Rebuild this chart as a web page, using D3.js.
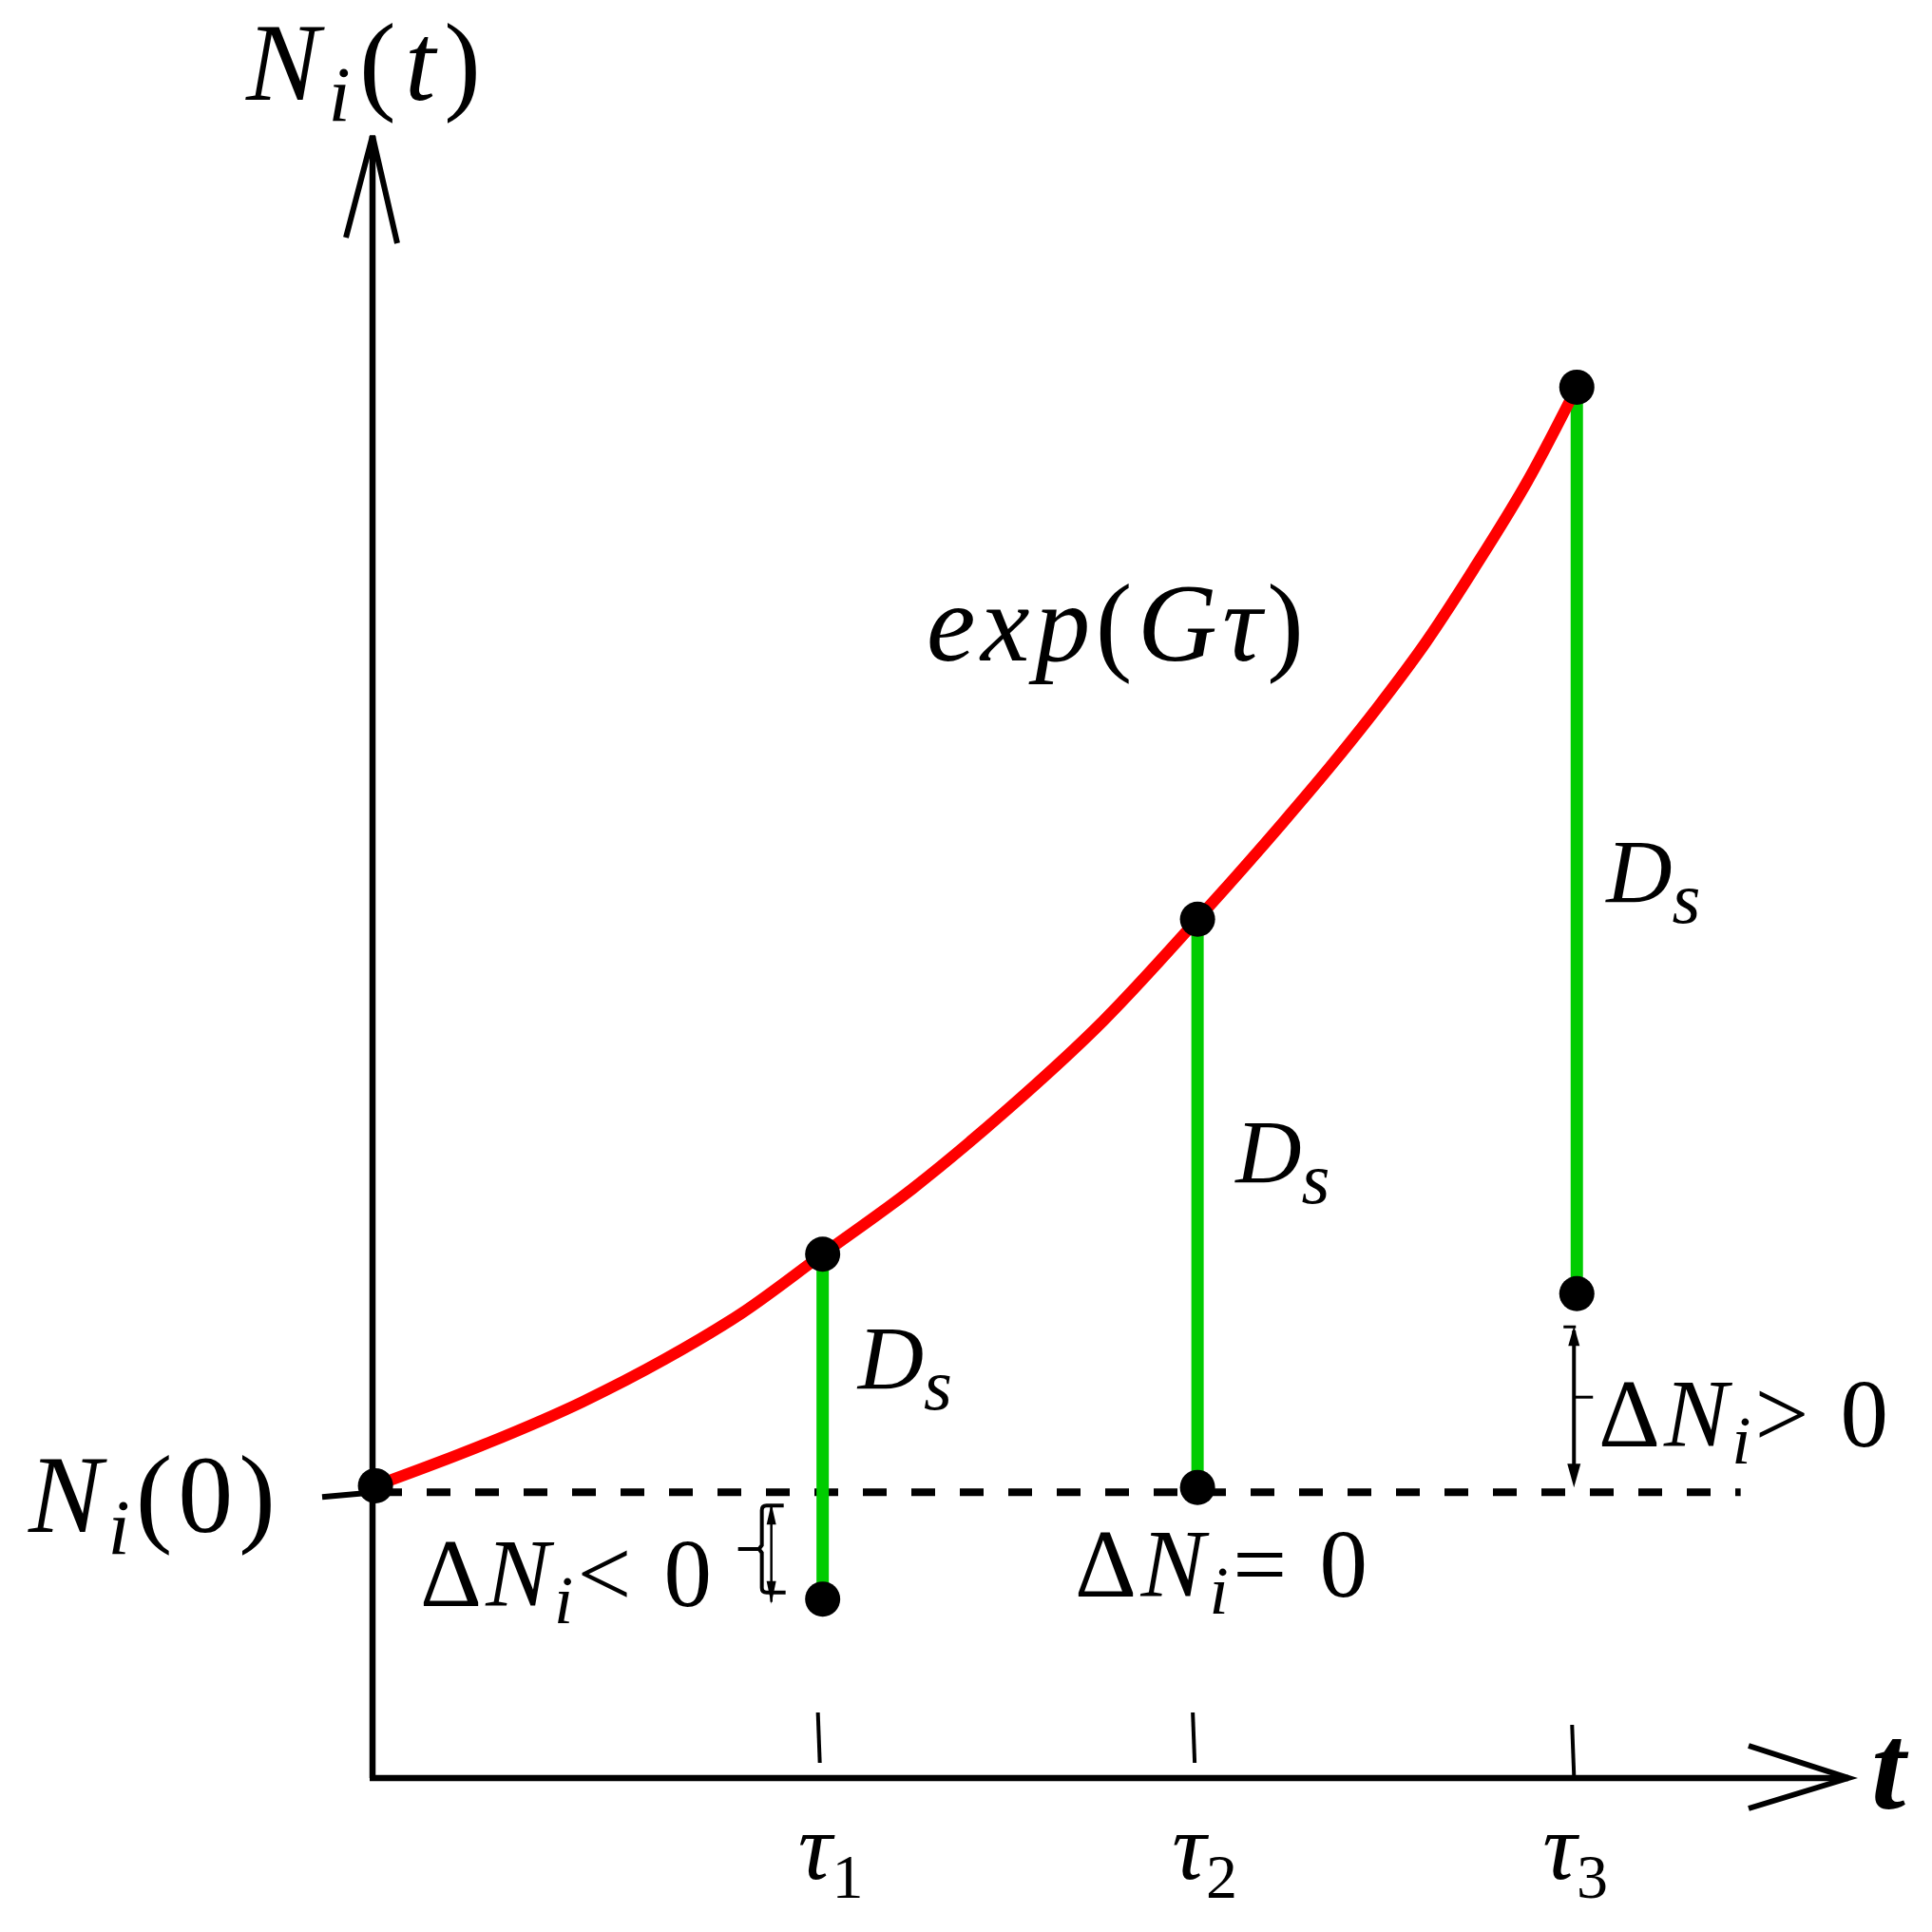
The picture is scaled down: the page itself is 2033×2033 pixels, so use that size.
<!DOCTYPE html>
<html>
<head>
<meta charset="utf-8">
<script src="https://cdn.jsdelivr.net/npm/d3@7"></script>
<style>
  html, body { margin: 0; padding: 0; background: #fff; }
  svg { display: block; }
</style>
</head>
<body>
<svg id="chart" width="2033" height="2033"></svg>
<script>
// ---------------- DATA ----------------
// time values of the three sampling instants (axis units 0..100)
const tauT = [30.5, 55.9, 81.6];
const tauSubs = ['1', '2', '3'];
// exponential growth curve N(t)
const curveT = [0.2, 4.1, 7.8, 14.2, 19.8, 25.0, 30.5, 36.6, 43.0, 49.5, 55.9, 61.7, 64.9, 68.1, 71.4, 74.6, 78.4, 81.6];
const curveN = [17.8, 19.1, 20.4, 22.9, 25.5, 28.3, 31.9, 35.9, 40.7, 46.1, 52.3, 58.2, 61.6, 65.2, 69.2, 73.6, 79.2, 84.7];
// value on the curve at each tau, and value after dilution D_s
const topN = [31.9, 52.3, 84.7];
const afterN = [10.9, 17.7, 29.5];
// initial value
const N0 = 17.8;
const baseN = 17.4;       // level of the dashed N_i(0) reference line
const baseEndT = 92.7;    // where the dashed line ends
const deltaSigns = ['<', '=', '>'];

// text labels (parts: [text, kind]) kind: it = italic, sub = italic subscript, subu = upright subscript, '' = upright
const yAxisLabel = [['N', 'it'], ['i', 'sub'], ['(', ''], ['t', 'it'], [')', '']];
const n0Label = [['N', 'it'], ['i', 'sub'], ['(', ''], ['0', ''], [')', '']];
const growthLabel = [['exp', 'it'], ['(', ''], ['G', 'it'], ['τ', 'it'], [')', '']];
const dsLabel = [['D', 'it'], ['s', 'sub']];
const xAxisLabel = 't';

// ---------------- LAYOUT ----------------
const W = 2033, H = 2033;
const FONT = "'Liberation Serif', 'DejaVu Serif', serif";
const svg = d3.select('#chart');
svg.append('rect').attr('width', W).attr('height', H).attr('fill', '#fff');

const x = d3.scaleLinear().domain([0, 100]).range([392, 1945]);
const y = d3.scaleLinear().domain([0, 100]).range([1871, 143]);

const GREEN = '#00cc00', RED = '#ff0000', BLACK = '#000';

function mathText(px, py, size, parts, width, subScale, subDrop) {
  const t = svg.append('text')
    .attr('x', px).attr('y', py)
    .attr('font-size', size)
    .attr('font-family', FONT)
    .attr('fill', BLACK);
  let shifted = 0;
  parts.forEach(([s, kind]) => {
    const ts = t.append('tspan').text(s);
    const isSub = kind === 'sub' || kind === 'subu';
    if (kind === 'it' || kind === 'sub') ts.attr('font-style', 'italic');
    const target = isSub ? subDrop : 0;
    const dy = target - shifted;
    if (dy) ts.attr('dy', dy);
    shifted = target;
    if (isSub) ts.attr('font-size', size * subScale);
  });
  if (width) t.attr('textLength', width).attr('lengthAdjust', 'spacing');
  return t;
}

// ---------------- AXES ----------------
const axes = svg.append('g').attr('stroke', BLACK).attr('fill', 'none')
  .attr('stroke-linecap', 'butt');
// y axis
axes.append('line')
  .attr('x1', x(0)).attr('y1', y(0)).attr('x2', x(0)).attr('y2', y(100))
  .attr('stroke-width', 6.5);
axes.append('path')
  .attr('d', `M${x(0) - 28},${y(100) + 107} L${x(0)},${y(100)} L${x(0) + 26},${y(100) + 113}`)
  .attr('stroke-width', 6).attr('stroke-linejoin', 'miter');
// x axis
axes.append('line')
  .attr('x1', x(0) - 3).attr('y1', y(0)).attr('x2', x(100)).attr('y2', y(0))
  .attr('stroke-width', 6.5);
axes.append('path')
  .attr('d', `M${x(100) - 105},${y(0) - 34} L${x(100)},${y(0)} L${x(100) - 105},${y(0) + 32}`)
  .attr('stroke-width', 6).attr('stroke-linejoin', 'miter');

// tick marks above the x axis at each tau (short, slightly off the axis)
const tickTop = [69, 69, 56], tickBot = [16, 16, 3];
axes.selectAll('line.tick').data(tauT).join('line')
  .attr('class', 'tick')
  .attr('x1', (d) => x(d) - 5).attr('y1', (d, i) => y(0) - tickTop[i])
  .attr('x2', (d) => x(d) - 3).attr('y2', (d, i) => y(0) - tickBot[i])
  .attr('stroke-width', 4);

// small tick left of the y axis at N_i(0)
axes.append('line')
  .attr('x1', x(0) - 53).attr('y1', y(baseN) + 5)
  .attr('x2', x(0) + 3).attr('y2', y(baseN))
  .attr('stroke-width', 6);

// dashed reference line
svg.append('line')
  .attr('x1', x(0) + 6).attr('y1', y(baseN))
  .attr('x2', x(baseEndT)).attr('y2', y(baseN))
  .attr('stroke', BLACK).attr('stroke-width', 8)
  .attr('stroke-dasharray', '25 26');

// ---------------- GREEN DILUTION SEGMENTS ----------------
svg.selectAll('line.ds').data(tauT).join('line')
  .attr('class', 'ds')
  .attr('x1', (d) => x(d)).attr('x2', (d) => x(d))
  .attr('y1', (d, i) => y(topN[i])).attr('y2', (d, i) => y(afterN[i]))
  .attr('stroke', GREEN).attr('stroke-width', 13);

// ---------------- RED CURVE ----------------
const curvePts = curveT.map((t, i) => [t, curveN[i]]);
svg.append('path')
  .datum(curvePts)
  .attr('d', d3.line().x((d) => x(d[0])).y((d) => y(d[1])).curve(d3.curveMonotoneX))
  .attr('fill', 'none').attr('stroke', RED).attr('stroke-width', 12)
  .attr('stroke-linecap', 'round');

// ---------------- DOTS ----------------
const dots = [[0.2, N0]]
  .concat(tauT.map((t, i) => [t, topN[i]]))
  .concat(tauT.map((t, i) => [t, afterN[i]]));
svg.selectAll('circle.pt').data(dots).join('circle')
  .attr('class', 'pt')
  .attr('cx', (d) => x(d[0])).attr('cy', (d) => y(d[1]))
  .attr('r', 18.5).attr('fill', BLACK);

// ---------------- ANNOTATIONS ----------------
// brace + double arrow for ΔN_i < 0 (at tau1)
{
  const cx = x(tauT[0]);
  const top = y(baseN) + 14, bot = y(afterN[0]) - 7;
  const mid = (top + bot) / 2;
  const bx = cx - 64;
  const g = svg.append('g').attr('stroke', BLACK).attr('fill', 'none').attr('stroke-width', 4);
  g.append('path').attr('d',
    `M${cx - 41},${top} L${bx + 5},${top} Q${bx},${top} ${bx},${top + 5} L${bx},${mid - 4} L${bx - 3},${mid} L${bx},${mid + 4} L${bx},${bot - 5} Q${bx},${bot} ${bx + 5},${bot} L${cx - 39},${bot}`);
  g.append('line').attr('x1', cx - 89).attr('y1', mid).attr('x2', bx - 3).attr('y2', mid);
  const ax = cx - 54;
  g.append('line').attr('x1', ax).attr('y1', top).attr('x2', ax).attr('y2', bot + 10).attr('stroke-width', 2.5);
  const ah = svg.append('g').attr('fill', BLACK);
  ah.append('path').attr('d', `M${ax},${top - 2} L${ax - 5},${top + 20} L${ax + 5},${top + 20} Z`);
  ah.append('path').attr('d', `M${ax},${bot + 12} L${ax - 5},${bot - 12} L${ax + 5},${bot - 12} Z`);
}
// double arrow for ΔN_i > 0 (at tau3)
{
  const ax = x(tauT[2]) - 3;
  const top = y(afterN[2]) + 35, bot = y(baseN) - 6;
  const mid = top + (bot - top) * 0.44;
  const g = svg.append('g').attr('stroke', BLACK).attr('fill', 'none').attr('stroke-width', 4);
  g.append('line').attr('x1', ax).attr('y1', top + 4).attr('x2', ax).attr('y2', bot - 10);
  g.append('line').attr('x1', ax - 11).attr('y1', top).attr('x2', ax + 2).attr('y2', top).attr('stroke-width', 3);
  g.append('line').attr('x1', ax).attr('y1', mid).attr('x2', ax + 20).attr('y2', mid).attr('stroke-width', 3);
  const ah = svg.append('g').attr('fill', BLACK);
  ah.append('path').attr('d', `M${ax},${top - 1} L${ax - 6},${top + 20} L${ax + 6},${top + 20} Z`);
  ah.append('path').attr('d', `M${ax},${bot + 1} L${ax - 7},${bot - 24} L${ax + 7},${bot - 24} Z`);
}

// ---------------- TEXT ----------------
// axis labels
mathText(259, 105, 116, yAxisLabel, 247, 0.72, 22);
mathText(30, 1612, 116, n0Label, 260, 0.72, 23);
svg.append('text')
  .attr('x', 1969).attr('y', 1903)
  .attr('font-family', FONT).attr('font-size', 130)
  .attr('font-style', 'italic').attr('font-weight', 'bold')
  .text(xAxisLabel);

// growth label
mathText(975, 695, 116, growthLabel, 397, 0.72, 22);

// D_s labels beside each green segment
const dsBase = [1462, 1245, 950];
const dsDx = [37, 40, 31];
tauT.forEach((t, i) => {
  mathText(x(t) + dsDx[i], dsBase[i], 96, dsLabel, null, 0.8, 21);
});

// ΔN_i labels
const deltaPos = [[442, 1690, 307], [1131, 1680, 308], [1682, 1522, 305]];
deltaSigns.forEach((s, i) => {
  mathText(deltaPos[i][0], deltaPos[i][1], 101,
    [['Δ', ''], ['N', 'it'], ['i', 'sub'], [s, ''], [' 0', '']],
    deltaPos[i][2], 0.72, 18);
});

// tau tick labels under the x axis
const tauDx = [-26, -27, -36];
tauT.forEach((t, i) => {
  mathText(x(t) + tauDx[i], 1977, 100,
    [['τ', 'it'], [tauSubs[i], 'subu']], null, 0.66, 20);
});
</script>
</body>
</html>
